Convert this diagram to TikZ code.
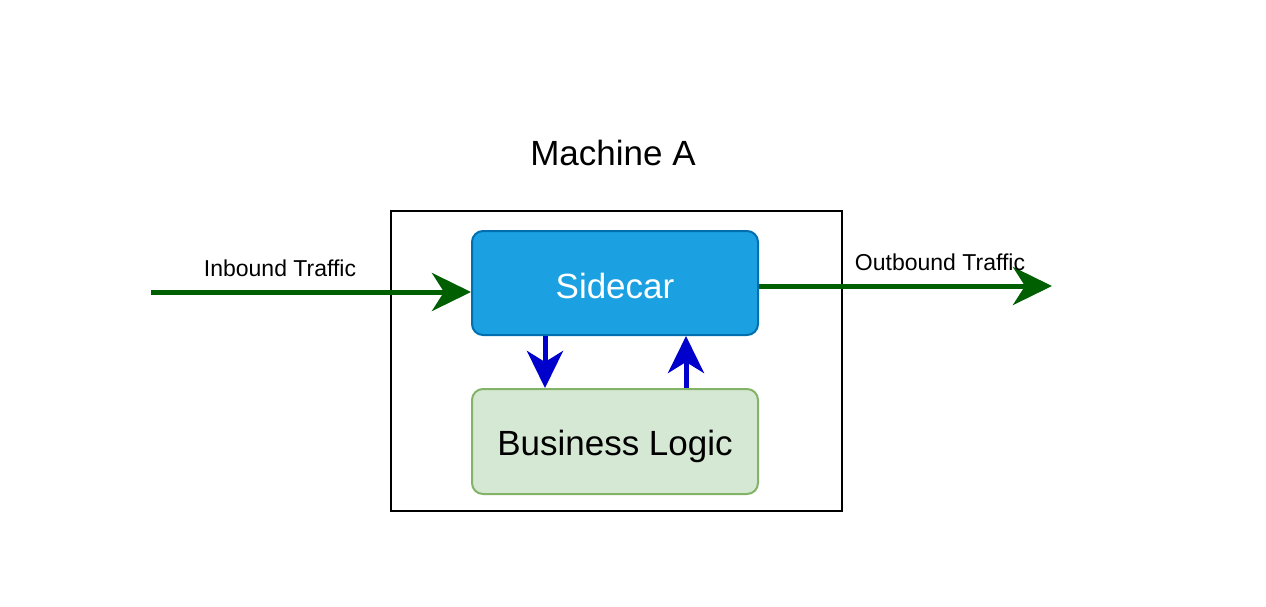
\documentclass[tikz,border=0pt]{standalone}
\usepackage{fontspec}
\setmainfont{Liberation Sans}
\usetikzlibrary{arrows.meta,calc}
\definecolor{sidefill}{HTML}{1BA1E2}
\definecolor{sideline}{HTML}{006EAF}
\definecolor{bizfill}{HTML}{D5E8D4}
\definecolor{bizline}{HTML}{82B366}
\definecolor{trafficgreen}{HTML}{005F00}
\definecolor{callblue}{HTML}{0000CC}
\tikzset{
  box/.style={rectangle, rounded corners=11pt, line width=2pt, minimum width=286pt, minimum height=104pt, inner sep=0pt},
  traffic/.style={draw=trafficgreen, line width=5pt, -{Stealth[length=39pt,width=38pt,inset=12pt]}},
  call/.style={draw=callblue, line width=5pt, -{Stealth[length=37pt,width=36pt,inset=11pt]}},
  lbl/.style={font=\fontsize{23}{26}\selectfont, inner sep=0pt},
  big/.style={font=\fontsize{35}{40}\selectfont},
}
\begin{document}
\begin{tikzpicture}[x=1pt,y=-1pt]
\useasboundingbox (0,0) rectangle (1266,606);
\node[big, inner sep=0pt] (title) at (613,153) {Machine A};
\node[draw=black, line width=2pt, minimum width=451pt, minimum height=300pt, inner sep=0pt] (machine) at (616.5,361) {};
\node[box, fill=sidefill, draw=sideline, text=white, big] (sidecar) at (615,283) {\raisebox{-2.5pt}[\height][\depth]{Sidecar}};
\node[box, fill=bizfill, draw=bizline, minimum height=105pt, big] (biz) at (615,441.5) {\raisebox{-4.5pt}[\height][\depth]{Business Logic}};
\coordinate (in) at (151,292);
\coordinate (out) at (1052,286);
\coordinate (xa) at (545,0);
\coordinate (xb) at (686,0);
\draw[traffic] (in) -- (sidecar.west |- in);
\draw[traffic] (sidecar.east |- out) -- (out);
\draw[call] (sidecar.south -| xa) -- (biz.north -| xa);
\draw[call] (biz.north -| xb) -- (sidecar.south -| xb);
\node[lbl] (inlbl) at (280,268) {Inbound Traffic};
\node[lbl] (outlbl) at (940,262) {Outbound Traffic};
\end{tikzpicture}
\end{document}
